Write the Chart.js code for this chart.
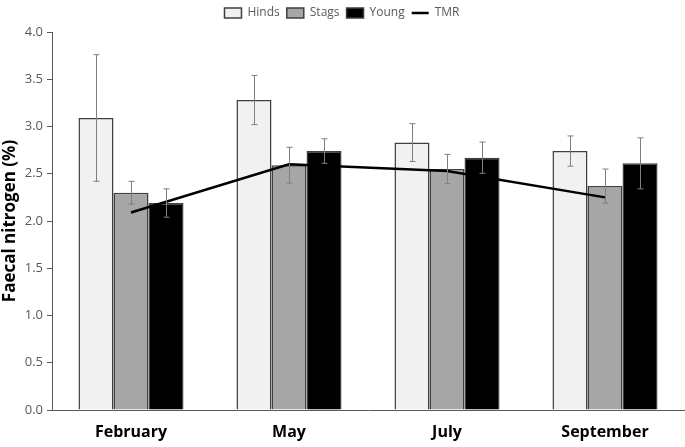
<!DOCTYPE html>
<html>
<head>
<meta charset="utf-8">
<script src="https://cdn.jsdelivr.net/npm/chart.js@4.4.1/dist/chart.umd.min.js"></script>
<style>
  html, body { margin: 0; padding: 0; background: #fff; }
  #wrap { width: 685px; height: 447px; }
</style>
</head>
<body>
<div id="wrap"><canvas id="c"></canvas></div>
<script>
'use strict';

// ─── Data ────────────────────────────────────────────────────────────────────
const months = ['February', 'May', 'July', 'September'];
const hinds = [3.09, 3.28, 2.83, 2.74];
const hindsErr = [0.67, 0.26, 0.20, 0.16];
const stags = [2.30, 2.59, 2.55, 2.37];
const stagsErr = [0.12, 0.19, 0.155, 0.18];
const young = [2.19, 2.74, 2.67, 2.61];
const youngErr = [0.15, 0.13, 0.165, 0.27];
const tmr = [2.09, 2.60, 2.53, 2.25];
const yTicks = [0, 0.5, 1, 1.5, 2, 2.5, 3, 3.5, 4];

const FONT = "'Open Sans', 'DejaVu Sans', sans-serif";
const AXIS_GREY = '#595959';

// ─── Error bars: drawn from each bar's own scale position ────────────────────
const errorBars = {
  id: 'errorBars',
  afterDatasetsDraw(chart) {
    const { ctx, scales: { y } } = chart;
    ctx.save();
    ctx.strokeStyle = '#7f7f7f';
    ctx.lineWidth = 1;
    chart.data.datasets.forEach((ds, i) => {
      if (!ds.errors) return;
      chart.getDatasetMeta(i).data.forEach((bar, j) => {
        const v = ds.data[j], e = ds.errors[j];
        const x = Math.round(bar.x) + 0.5;
        const top = y.getPixelForValue(v + e);
        const bot = y.getPixelForValue(v - e);
        ctx.beginPath();
        ctx.moveTo(x, top); ctx.lineTo(x, bot);
        ctx.moveTo(x - 3, top); ctx.lineTo(x + 3, top);
        ctx.moveTo(x - 3, bot); ctx.lineTo(x + 3, bot);
        ctx.stroke();
      });
    });
    ctx.restore();
  },
};

// legend block height so the plot starts where the figure's does
const legendHeight = {
  id: 'legendHeight',
  beforeInit(chart) {
    const lg = chart.legend;
    if (!lg) return;
    const fit = lg.fit.bind(lg);
    lg.fit = function () { fit(); this.height = 32; };
  },
};

new Chart(document.getElementById('c'), {
  data: {
    labels: months,
    datasets: [
      { type: 'line', label: 'TMR', data: tmr, borderColor: '#000', backgroundColor: '#000',
        borderWidth: 2.5, pointRadius: 0, tension: 0, order: 0, pointStyle: 'line' },
      { type: 'bar', label: 'Hinds', data: hinds, errors: hindsErr, backgroundColor: '#f1f1f1',
        borderColor: '#3f3f3f', borderWidth: 1.5, order: 1, pointStyle: 'rect' },
      { type: 'bar', label: 'Stags', data: stags, errors: stagsErr, backgroundColor: '#a6a6a6',
        borderColor: '#3f3f3f', borderWidth: 1.5, order: 1, pointStyle: 'rect' },
      { type: 'bar', label: 'Young', data: young, errors: youngErr, backgroundColor: '#000',
        borderColor: '#3f3f3f', borderWidth: 1.5, order: 1, pointStyle: 'rect' },
    ],
  },
  options: {
    responsive: true, maintainAspectRatio: false, animation: false,
    layout: { padding: { left: 0, right: 1, top: 0, bottom: 0 } },
    datasets: { bar: { barPercentage: 1, categoryPercentage: 0.665 } },
    plugins: {
      tooltip: { enabled: false },
      legend: {
        position: 'top',
        labels: {
          color: AXIS_GREY,
          font: { family: FONT, size: 12 },
          usePointStyle: true,
          pointStyleWidth: 17,
          boxHeight: 10,
          padding: 7,
          sort: (a, b) => (a.text === 'TMR') - (b.text === 'TMR'),
        },
      },
    },
    scales: {
      x: {
        grid: { drawOnChartArea: false, drawTicks: false },
        border: { display: true, color: AXIS_GREY, width: 1 },
        ticks: { color: '#000', font: { family: FONT, size: 16, weight: 'bold' }, padding: 13 },
        afterFit(s) { s.height = 37; },
      },
      y: {
        min: 0, max: 4,
        afterBuildTicks(s) { s.ticks = yTicks.map(v => ({ value: v })); },
        grid: { drawOnChartArea: false, drawTicks: true, tickLength: 5, color: AXIS_GREY },
        border: { display: true, color: AXIS_GREY, width: 1 },
        ticks: { color: AXIS_GREY, font: { family: FONT, size: 13 }, padding: 4,
                 callback: v => Number(v).toFixed(1) },
        title: { display: true, text: 'Faecal nitrogen (%)', color: '#000',
                 font: { family: FONT, size: 17, weight: 'bold' }, padding: 0 },
        afterFit(s) { s.width = 52; },
      },
    },
  },
  plugins: [legendHeight, errorBars],
});
</script>
</body>
</html>
